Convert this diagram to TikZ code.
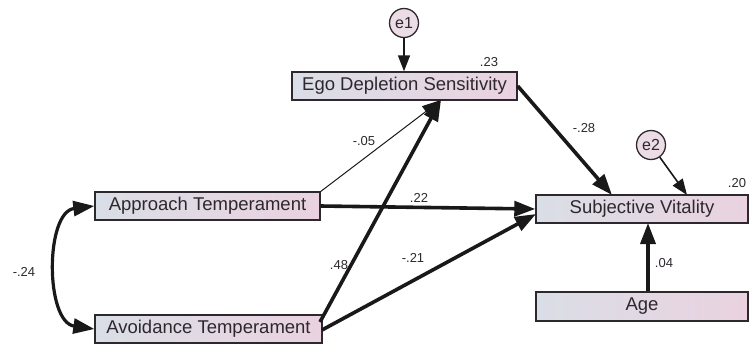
\documentclass[tikz,border=0pt]{standalone}
\usepackage{fontspec}
\setmainfont{Liberation Sans}
\usetikzlibrary{arrows.meta}
\definecolor{lc}{RGB}{218,222,230}
\definecolor{rc}{RGB}{234,210,224}
\definecolor{ec}{RGB}{236,220,230}
\definecolor{tc}{RGB}{45,40,45}
\begin{document}
\begin{tikzpicture}[x=1pt,y=-1pt,
  var/.style={draw=tc,line width=1.4pt,left color=lc,right color=rc,
    inner sep=0pt,font=\fontsize{18.5}{20}\selectfont,text=tc},
  err/.style={circle,draw=tc,line width=1.3pt,fill=ec,minimum size=29pt,inner sep=0pt,
    font=\fontsize{16}{18}\selectfont,text=tc},
  lab/.style={font=\fontsize{13}{15}\selectfont,text=tc},
  tip/.tip={Triangle[length=21pt,width=15pt]},
  big/.style={-tip,line width=3.6pt,draw=black!90},
  thin/.style={-{Triangle[length=19pt,width=13pt]},line width=1pt,draw=black!90},
  mid/.style={-{Triangle[length=16pt,width=12pt]},line width=1.6pt,draw=black!90}]
\useasboundingbox (0,0) rectangle (751,349);
\node[var,minimum width=225pt,minimum height=28pt] (eds) at (404.5,86) {Ego Depletion Sensitivity};
\node[var,minimum width=225pt,minimum height=28pt] (app) at (207.5,206) {Approach Temperament};
\node[var,minimum width=227pt,minimum height=28pt] (avo) at (208.5,329) {Avoidance Temperament};
\node[var,minimum width=212pt,minimum height=28pt] (sv) at (642,209) {Subjective Vitality};
\node[var,minimum width=212pt,minimum height=29pt] (age) at (642,306.5) {Age};
\node[err] (e1) at (404,23) {e1};
\node[err] (e2) at (651,145) {e2};
\coordinate (edsb) at (441,100);
\node[lab] at (489,62) {.23};
\node[lab] at (737,183) {.20};
\draw[mid] (e1) -- (eds.north -| e1);
\draw[mid] (e2) -- (687,195);
\draw[big] (eds.east) -- (612,195);
\draw[thin] (320,192) -- (edsb);
\draw[big] (320,322) -- (edsb);
\draw[big] (app.east) -- (sv.west);
\draw[big] (322,330) -- (536,214);
\draw[big] (age.north -| 648,0) -- (648,223);
\draw[tip-tip,line width=3.2pt,draw=black!90]
  (app.west) .. controls (45,212) and (45,322) .. (avo.west);
\node[lab] at (584,128) {-.28};
\node[lab] at (364,141) {-.05};
\node[lab] at (419,198) {.22};
\node[lab] at (339,265) {.48};
\node[lab] at (413,258) {-.21};
\node[lab] at (664,263) {.04};
\node[lab] at (24,272) {-.24};
\end{tikzpicture}
\end{document}
